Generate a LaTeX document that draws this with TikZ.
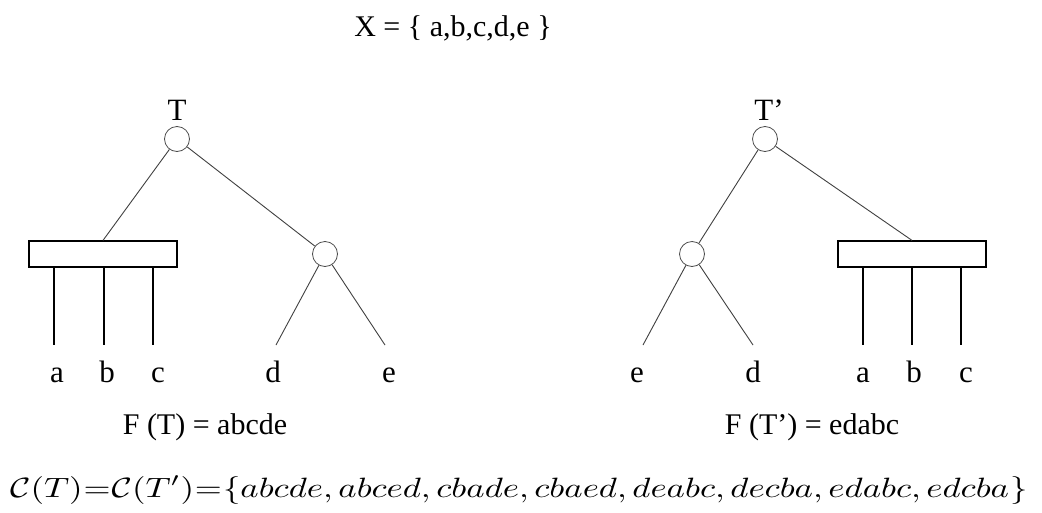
\documentclass[tikz,border=0pt]{standalone}
\usepackage{fontspec}
\setmainfont{Liberation Serif}
\usepackage{graphicx}
\usetikzlibrary{positioning}

\begin{document}
\begin{tikzpicture}[
  x=1pt, y=-1pt,
  vtx/.style={draw=black!70, circle, minimum size=25pt, inner sep=0pt, line width=0.8pt},
  grp/.style={draw=black, rectangle, minimum width=148pt, minimum height=26pt, inner sep=0pt, line width=1.2pt},
  edge/.style={draw=black!75, line width=0.9pt},
  leg/.style={draw=black, line width=1.3pt},
  lf/.style={font=\fontsize{31}{34}\selectfont, inner sep=0pt, text height=21pt, text depth=0pt},
  txt/.style={font=\fontsize{30}{34}\selectfont, inner sep=0pt, anchor=base}
]
\useasboundingbox (0,0) rectangle (1042,512);

\node[txt] (xset) at (453,36) {X = \{ a,b,c,d,e \}};

% tree T
\node[vtx] (r1) at (177,139) {};
\node[txt, font=\fontsize{31}{34}\selectfont, above=5pt of r1, anchor=south] (t1) {T};
\node[grp] (g1) at (103,254) {};
\node[vtx] (v1) at (325,254) {};
\coordinate (a1) at (54,345);
\coordinate (b1) at (104,345);
\coordinate (c1) at (153,345);
\coordinate (d1) at (276,345);
\coordinate (e1) at (385,345);
\node[lf, below=16pt of a1, xshift=3pt] (la1) {a};
\node[lf, below=16pt of b1, xshift=3pt] (lb1) {b};
\node[lf, below=16pt of c1, xshift=5pt] (lc1) {c};
\node[lf, below=16pt of d1, xshift=-3pt] (ld1) {d};
\node[lf, below=16pt of e1, xshift=4pt] (le1) {e};

\draw[edge] (r1) -- (g1.north);
\draw[edge] (r1) -- (v1);
\draw[edge] (v1) -- (d1);
\draw[edge] (v1) -- (e1);
\foreach \p in {a1,b1,c1}
  \draw[leg] (g1.south -| \p) -- (\p);

\node[txt] (f1) at (205,434) {F (T) = abcde};

% tree T'
\node[vtx] (r2) at (765,139) {};
\node[txt, font=\fontsize{31}{34}\selectfont, above=5pt of r2, anchor=south, xshift=4pt] (t2) {T’};
\node[vtx] (v2) at (692,254) {};
\node[grp] (g2) at (912,254) {};
\coordinate (e2) at (643,345);
\coordinate (d2) at (753,345);
\coordinate (a2) at (863,345);
\coordinate (b2) at (912,345);
\coordinate (c2) at (961,345);
\node[lf, below=16pt of e2, xshift=-6pt] (le2) {e};
\node[lf, below=16pt of d2] (ld2) {d};
\node[lf, below=16pt of a2] (la2) {a};
\node[lf, below=16pt of b2, xshift=2pt] (lb2) {b};
\node[lf, below=16pt of c2, xshift=5pt] (lc2) {c};

\draw[edge] (r2) -- (v2);
\draw[edge] (r2) -- (g2.north);
\draw[edge] (v2) -- (e2);
\draw[edge] (v2) -- (d2);
\foreach \p in {a2,b2,c2}
  \draw[leg] (g2.south -| \p) -- (\p);

\node[txt] (f2) at (812,434) {F (T’) = edabc};

% orderings
\node[inner sep=0pt, anchor=base west] (cset) at (10,497)
  {\resizebox{1017pt}{21pt}{\thickmuskip=0.5mu $\mathcal{C}(T)=\mathcal{C}(T')=\{abcde, abced, cbade, cbaed, deabc, decba, edabc, edcba\}$}};
\end{tikzpicture}
\end{document}
